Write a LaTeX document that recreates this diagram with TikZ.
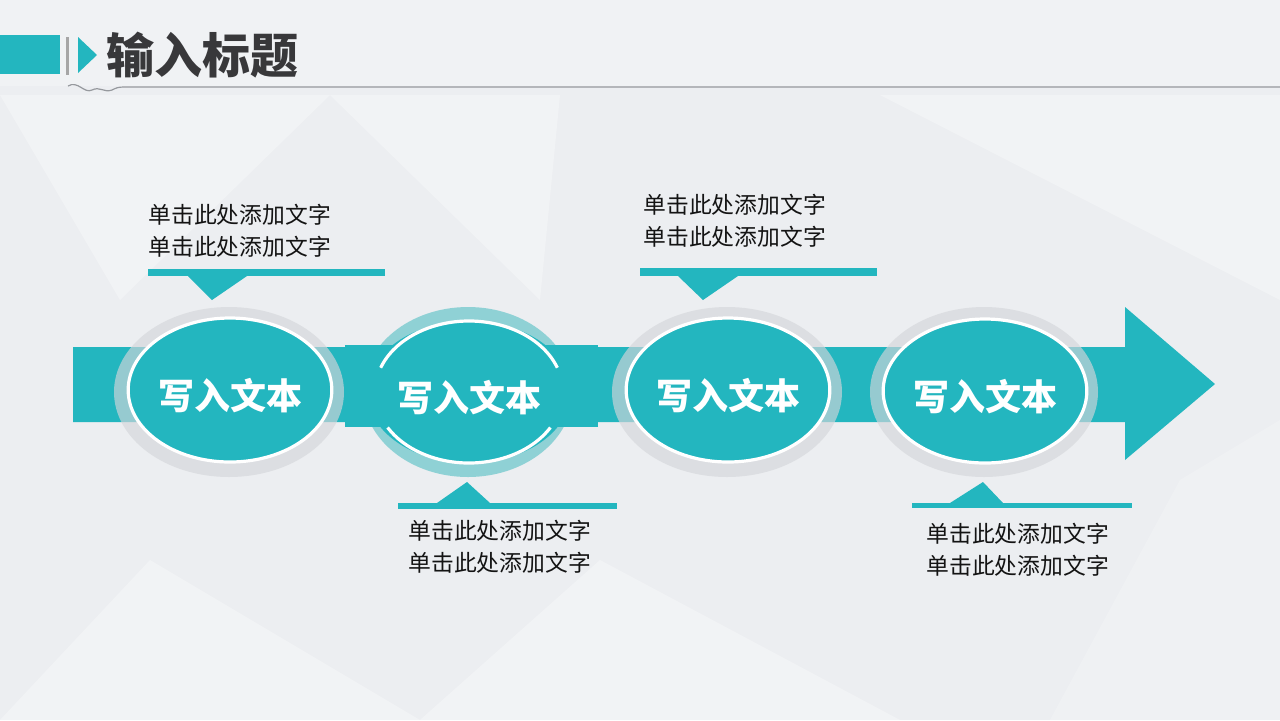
\documentclass[tikz,border=0pt]{standalone}
\usepackage{fontspec}
\newfontfamily\cjk{Noto Sans CJK SC}
\usetikzlibrary{shapes.geometric}
\definecolor{stepteal}{RGB}{35,182,191}
\definecolor{ringteal}{RGB}{143,209,213}
\definecolor{halogrey}{RGB}{212,214,218}
\definecolor{bggrey}{RGB}{236,238,241}
\definecolor{titlegrey}{RGB}{56,56,58}
\definecolor{rulegrey}{RGB}{150,153,158}
\newcommand{\steplabel}[1]{\raisebox{-3pt}[\height][\depth]{#1}}
\tikzset{
  stepcirc/.style={ellipse, fill=stepteal, draw=white, line width=1.6pt, inner sep=0pt,
    minimum width=101pt, minimum height=72pt, text=white,
    font=\cjk\bfseries\fontsize{18pt}{18pt}\selectfont},
  halo/.style={fill=halogrey, fill opacity=0.65},
  notetext/.style={anchor=west, inner sep=0pt, align=left, text=black!92,
    font=\cjk\fontsize{11.4pt}{16pt}\selectfont},
  facet/.style={fill=white, fill opacity=0.3}
}
\begin{document}
\begin{tikzpicture}[x=0.5pt,y=0.5pt,yscale=-1]
%Background
\fill [bggrey] (0,0) rectangle (1280,720);
\useasboundingbox (0,0) rectangle (1280,720);
%Shape: Facets
\fill [facet] (330,95) -- (560,95) -- (540,300) -- cycle;
\fill [facet] (0,95) -- (330,95) -- (120,300) -- cycle;
\fill [facet] (150,560) -- (420,720) -- (0,720) -- cycle;
\fill [facet] (600,560) -- (900,720) -- (420,720) -- cycle;
\fill [facet] (880,95) -- (1280,95) -- (1280,300) -- cycle;
\fill [facet, fill opacity=0.2] (1180,480) -- (1280,420) -- (1280,720) -- (1050,720) -- cycle;
\fill [facet, fill opacity=0.25] (0,0) rectangle (1280,86);

%Title bar
\fill [stepteal] (0,35) rectangle (60,74);
\fill [gray!70] (66,37) rectangle (69,75);
\fill [stepteal] (78,37) -- (97,55) -- (78,73) -- cycle;
\node (title) [anchor=west, inner sep=0pt, text=titlegrey,
  font=\cjk\bfseries\fontsize{24pt}{24pt}\selectfont] at (106,55) {输入标题};
%Curve Lines
\draw [rulegrey, line width=0.6pt] (68,86) .. controls (78,80) and (84,94) .. (92,90)
  .. controls (100,86) and (104,93) .. (112,90) .. controls (116,88) and (118,87) .. (124,87) -- (1280,87);

%Arrow band
\fill [stepteal] (73,347) -- (1125,347) -- (1125,307) -- (1215,384) -- (1125,460)
  -- (1125,422) -- (73,422) -- cycle;
%Halos
\fill [halo] (229,392) ellipse [x radius=115, y radius=85];
\fill [halo] (727,392) ellipse [x radius=115, y radius=85];
\fill [halo] (984,392) ellipse [x radius=114, y radius=85];
\fill [ringteal] (468,392) ellipse [x radius=105, y radius=85];
\fill [stepteal] (345,345) rectangle (598,427);

% Step Nodes
\node (step1) [stepcirc] at (230,390) {\steplabel{写入文本}};
\node (step2) [stepcirc, draw=none, minimum width=94pt, minimum height=71pt] at (469,392) {\steplabel{写入文本}};
\node (step3) [stepcirc] at (728,390) {\steplabel{写入文本}};
\node (step4) [stepcirc] at (985,391) {\steplabel{写入文本}};
\draw [white, line width=1.6pt] (step2.center) ++(-20:94 and 71) arc [start angle=-20, end angle=-160, x radius=94, y radius=71];
\draw [white, line width=1.6pt] (step2.center) ++(30:94 and 71) arc [start angle=30, end angle=150, x radius=94, y radius=71];

%Callouts
\fill [stepteal] (148,269) rectangle (385,276);
\fill [stepteal] (188,276) -- (247,276) -- (212,300) -- cycle;
\node (note1) [notetext] at (148,231) {单击此处添加文字\\单击此处添加文字};

\fill [stepteal] (398,503) rectangle (617,509);
\fill [stepteal] (437,503) -- (490,503) -- (467,482) -- cycle;
\node (note2) [notetext] at (408,547) {单击此处添加文字\\单击此处添加文字};

\fill [stepteal] (640,268) rectangle (877,276);
\fill [stepteal] (678,276) -- (738,276) -- (703,300) -- cycle;
\node (note3) [notetext] at (643,221) {单击此处添加文字\\单击此处添加文字};

\fill [stepteal] (912,503) rectangle (1132,508);
\fill [stepteal] (950,503) -- (1003,503) -- (983,482) -- cycle;
\node (note4) [notetext] at (926,550) {单击此处添加文字\\单击此处添加文字};
\end{tikzpicture}
\end{document}
